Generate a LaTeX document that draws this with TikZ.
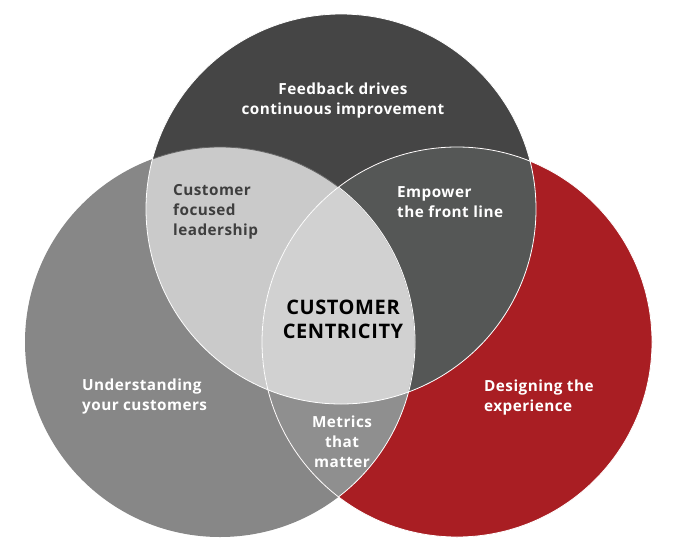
\documentclass[tikz,border=0pt]{standalone}
\usepackage{fontspec}
\setmainfont{Open Sans}[LetterSpace=3.0]
\definecolor{topc}{HTML}{454545}
\definecolor{leftc}{HTML}{878787}
\definecolor{rightc}{HTML}{A91E23}
\definecolor{tlc}{HTML}{CACACA}
\definecolor{trc}{HTML}{555756}
\definecolor{lrc}{HTML}{8F8F8F}
\definecolor{allc}{HTML}{D1D1D1}
\definecolor{darktxt}{HTML}{3E3E3E}
\begin{document}
\begin{tikzpicture}[x=1pt,y=-1pt,
  lbl/.style={inner sep=0pt, text=white, font=\bfseries\fontsize{15.3}{20}\selectfont},
  edge/.style={draw=white, line width=0.8pt}]
\useasboundingbox (0,0) rectangle (700,551);
\def\R{195}
\coordinate (T) at (341,209);
\coordinate (L) at (220,342);
\coordinate (Rt) at (457,342);
% base circles
\fill[leftc] (L) circle[radius=\R];
\fill[topc] (T) circle[radius=\R];
\fill[rightc] (Rt) circle[radius=\R];
% pairwise intersections
\begin{scope}
  \clip (T) circle[radius=\R];
  \fill[tlc] (L) circle[radius=\R];
  \fill[trc] (Rt) circle[radius=\R];
\end{scope}
\begin{scope}
  \clip (L) circle[radius=\R];
  \fill[lrc] (Rt) circle[radius=\R];
  \clip (T) circle[radius=\R];
  \fill[allc] (Rt) circle[radius=\R];
\end{scope}
% outlines
\begin{scope}
  \clip (T) circle[radius=\R];
  \draw[draw=gray!80!black, line width=0.8pt] (L) circle[radius=\R];
\end{scope}
\draw[edge] (T) circle[radius=\R];
\draw[edge] (Rt) circle[radius=\R];
\begin{scope}
  \clip (Rt) circle[radius=\R];
  \draw[edge] (L) circle[radius=\R];
\end{scope}
% labels
\node[lbl, align=center] (fb) at (343,101) {Feedback drives\\continuous improvement};
\node[lbl, align=left, anchor=west, text=darktxt] (cfl) at (173,212) {Customer\\focused\\leadership};
\node[lbl, align=left, anchor=west] (emp) at (397,202) {Empower\\the front line};
\node[lbl, align=center, text=black, font=\bfseries\fontsize{20}{24}\selectfont] (cc) at (343,319) {CUSTOMER\\CENTRICITY};
\node[lbl, align=left, anchor=west] (und) at (82,397) {Understanding\\your customers};
\node[lbl, align=left, anchor=west] (des) at (484,398) {Designing the\\experience};
\node[lbl, align=center] (met) at (342,442) {Metrics\\that\\matter};
\end{tikzpicture}
\end{document}
